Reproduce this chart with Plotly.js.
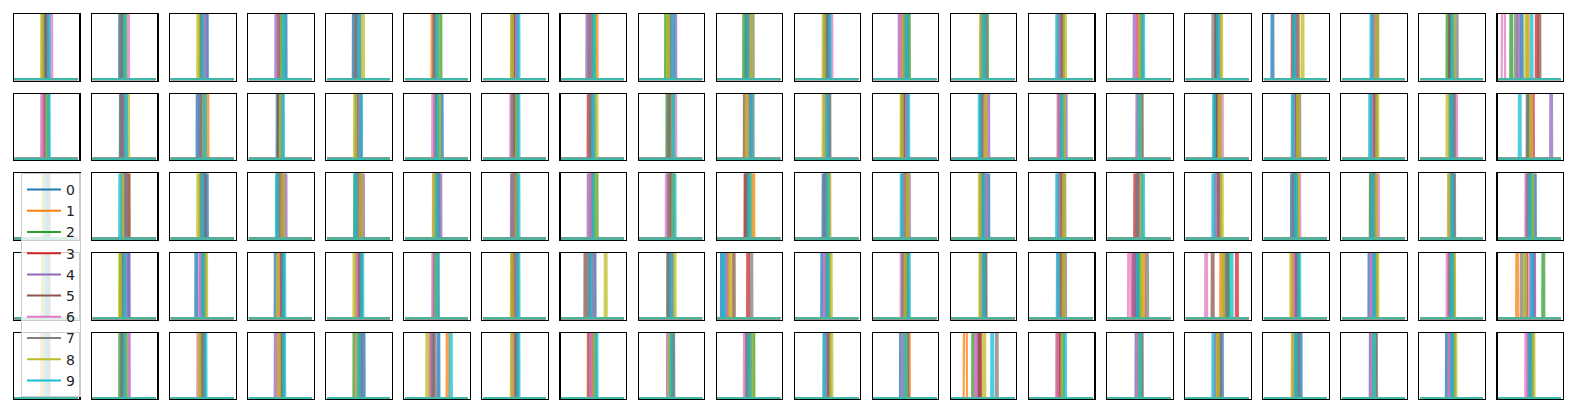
<!DOCTYPE html>
<html>
<head>
<meta charset="utf-8">
<script src="https://cdn.plot.ly/plotly-3.0.1.min.js"></script>
<style>html,body{margin:0;padding:0;background:#fff;}#chart{width:1576px;height:412px;}</style>
</head>
<body>
<div id="chart"></div>
<script>
// Class labels and colours (legend)
const classes = ['0','1','2','3','4','5','6','7','8','9'];
const colors = ['#1f77b4','#ff7f0e','#2ca02c','#d62728','#9467bd','#8c564b','#e377c2','#7f7f7f','#bcbd22','#17becf'];

// Peak centre of each class (index 0..9) in every panel, as % of the panel's x span
const row0Peaks = [
 [49,48,46,50,51,47,57,45,43,53],
 [43,48,46,49,50,47,55,44,51,50],
 [56,49,47,50,54,48,52,46,43,50],
 [57,50,51,49,43,48,45,47,52,54],
 [42,47,50,48,49,46,51,45,56,50],
 [50,43,55,48,49,46,51,47,52,50],
 [50,49,48,51,52,47,53,46,45,55],
 [50,55,49,48,41,47,45,44,52,51],
 [53,50,42,49,56,48,51,47,45,52],
 [50,49,42,48,51,46,52,55,53,47],
 [50,49,48,51,47,52,56,46,44,53],
 [50,48,55,49,41,46,43,52,47,51],
 [48,50,55,49,47,49,51,53,46,50],
 [47,49,46,48,50,51,45,52,55,43],
 [52,48,49,47,42,51,46,53,50,55],
 [50,51,49,48,52,47,53,43,55,50],
 [14,53,49,45,50,48,51,52,60,47],
 [52,50,51,49,48,53,50,55,54,46],
 [49,50,43,48,51,47,52,57,53,50],
 [37,46,21,60,32,64,9,28,44,52]
];
const row1Peaks = [
 [52,48,49,50,45,47,43,49,51,53],
 [44,50,49,48,47,46,51,45,55,52],
 [42,57,48,49,46,50,51,47,52,53],
 [45,50,49,48,51,47,52,49,50,53],
 [50,49,48,51,47,52,50,46,44,53],
 [57,49,48,50,51,47,44,52,53,50],
 [50,49,48,51,52,47,44,46,53,55],
 [50,49,48,43,51,47,52,46,55,50],
 [50,48,44,49,51,47,56,46,52,53],
 [50,49,48,51,52,43,47,55,46,53],
 [50,49,47,51,48,52,46,53,44,50],
 [50,49,48,51,47,46,52,45,44,54],
 [50,49,48,51,57,47,52,46,53,44],
 [47,49,46,48,56,51,45,52,53,50],
 [49,50,48,51,47,52,46,53,50,49],
 [50,49,48,47,51,46,56,52,53,44],
 [50,49,48,51,47,52,46,55,53,45],
 [50,49,48,51,47,52,46,53,55,44],
 [50,49,48,51,47,52,56,53,43,49],
 [47,50,48,54,82,49,52,46,51,34]
];
const row2Peaks = [
 [50,49,48,51,47,52,46,53,45,50],
 [50,55,49,48,51,56,47,52,46,43],
 [56,49,48,51,53,52,47,46,43,50],
 [50,49,45,48,57,52,47,46,53,44],
 [50,49,44,48,56,52,47,46,53,45],
 [50,49,48,51,55,46,47,52,45,50],
 [50,49,48,51,45,52,47,46,53,55],
 [50,49,55,48,43,47,46,52,53,50],
 [50,49,48,51,47,52,43,46,53,55],
 [50,56,49,44,47,45,52,48,53,50],
 [44,49,48,50,47,51,52,46,53,50],
 [50,49,46,48,55,51,47,52,53,44],
 [57,49,48,51,47,52,53,46,44,50],
 [47,49,46,48,50,51,45,54,53,43],
 [50,49,48,43,51,47,52,46,53,55],
 [50,49,48,51,47,52,46,53,56,43],
 [44,49,48,51,47,52,55,46,53,50],
 [50,49,45,51,47,52,56,46,53,48],
 [50,49,48,51,47,52,46,53,45,50],
 [57,49,48,51,47,52,44,46,53,50]
];
const row3Peaks = [
 [50,44,48,51,47,52,46,53,45,50],
 [55,49,44,48,56,47,51,46,43,50],
 [40,49,48,51,47,52,46,53,55,50],
 [42,49,48,51,47,52,46,53,45,55],
 [50,49,48,51,47,52,46,53,43,55],
 [51,48,47,49,46,48,44,47,49,50],
 [50,49,48,51,47,46,52,53,45,55],
 [52,47,46,49,45,38,49,42,69,47],
 [50,49,48,51,47,46,52,45,55,50],
 [8,18,15,48,14,26,15,53,21,11],
 [42,49,48,51,47,52,46,50,55,50],
 [52,49,48,51,47,53,44,46,50,55],
 [50,49,48,51,47,52,46,53,45,50],
 [47,49,46,48,55,51,45,52,53,44],
 [48,56,50,40,42,46,34,61,52,47],
 [64,55,66,79,62,42,32,60,58,71],
 [50,45,48,51,47,52,46,53,43,55],
 [43,49,48,51,47,52,46,53,55,50],
 [50,49,48,51,47,52,43,46,53,50],
 [52,30,70,55,56,44,50,37,42,53]
];
const row4Peaks = [
 [50,43,48,51,47,52,46,53,45,50],
 [50,49,43,48,56,47,54,46,52,50],
 [50,49,48,51,47,46,43,52,45,54],
 [50,49,48,51,42,52,46,53,47,55],
 [57,49,43,51,53,48,46,52,47,50],
 [52,66,41,44,43,42,40,45,35,71],
 [50,49,48,51,47,52,46,53,45,55],
 [50,43,48,51,47,44,46,53,52,55],
 [50,49,48,51,45,52,46,53,47,50],
 [50,49,56,51,47,48,43,46,53,50],
 [50,49,48,51,47,52,46,53,56,45],
 [43,55,48,51,47,52,46,53,50,49],
 [42,22,34,45,40,43,38,70,51,63],
 [47,49,46,44,50,48,43,52,51,55],
 [45,49,48,51,47,52,46,53,50,50],
 [56,49,48,51,47,52,46,53,50,43],
 [57,49,48,51,47,52,46,53,45,50],
 [45,49,48,51,47,52,46,53,50,50],
 [42,49,48,51,47,52,46,53,55,50],
 [50,49,48,51,47,52,44,53,55,50]
];
// Peaks that are visibly wider: [row, column, class, half-width in %]
const widePeaks = [[0,19,6,2.6],[4,12,1,2.6],[4,5,7,2.5],[3,14,6,2.0]];

const allRows = [row0Peaks,row1Peaks,row2Peaks,row3Peaks,row4Peaks];
const nRows = 5, nCols = 20;
const W = 1576, H = 412;
const colLeft = 14, colPitch = 78.08, panelW = 65.4;
const rowTop = 14, rowPitch = 79.7, panelH = 66.5;
const baseHalf = 1.5, peakHeight = 6, xLo = 1, xHi = 97;

const data = [];
const layout = {
  width: W, height: H,
  margin: {l:0, r:0, t:0, b:0, pad:0, autoexpand:false},
  paper_bgcolor: '#ffffff', plot_bgcolor: '#ffffff',
  showlegend: true,
  legend: {
    x: 21/W, y: 1 - 173/H, xanchor: 'left', yanchor: 'top',
    bgcolor: 'rgba(255,255,255,0.8)', bordercolor: '#cccccc', borderwidth: 1,
    font: {family: 'DejaVu Sans', size: 14, color: '#222222'},
    itemwidth: 34, tracegroupgap: 0, traceorder: 'normal'
  },
  font: {family: 'DejaVu Sans'}
};

function halfWidth(r, c, k) {
  for (const w of widePeaks) if (w[0]===r && w[1]===c && w[2]===k) return w[3];
  return baseHalf;
}

for (let r = 0; r < nRows; r++) {
  for (let c = 0; c < nCols; c++) {
    const idx = r*nCols + c + 1;
    const sfx = idx === 1 ? '' : String(idx);
    const x0 = (colLeft + c*colPitch)/W, x1 = (colLeft + c*colPitch + panelW)/W;
    const yt = rowTop + r*rowPitch;
    const y1 = 1 - yt/H, y0 = 1 - (yt + panelH)/H;
    layout['xaxis'+sfx] = {domain:[x0,x1], range:[0,100], anchor:'y'+sfx,
      showticklabels:false, ticks:'', showgrid:false, zeroline:false,
      showline:true, mirror:true, linecolor:'#000000', linewidth:1.1, fixedrange:true};
    layout['yaxis'+sfx] = {domain:[y0,y1], range:[-0.02,1], anchor:'x'+sfx,
      showticklabels:false, ticks:'', showgrid:false, zeroline:false,
      showline:true, mirror:true, linecolor:'#000000', linewidth:1.1, fixedrange:true};
    const centres = allRows[r][c];
    for (let k = 0; k < classes.length; k++) {
      const cx = centres[k], hw = halfWidth(r,c,k);
      data.push({
        type:'scatter', mode:'lines', xaxis:'x'+sfx, yaxis:'y'+sfx,
        x:[xLo, cx-hw, cx, cx+hw, xHi], y:[0,0,peakHeight,0,0],
        line:{color:colors[k], width:2.2}, opacity:0.75,
        showlegend:false, hoverinfo:'skip', name:classes[k]
      });
    }
  }
}
// legend entries
for (let k = 0; k < classes.length; k++) {
  data.push({type:'scatter', mode:'lines', x:[null], y:[null], xaxis:'x', yaxis:'y',
    name:classes[k], line:{color:colors[k], width:2}, showlegend:true, hoverinfo:'skip'});
}

Plotly.newPlot('chart', data, layout, {staticPlot:true, displayModeBar:false});
</script>
</body>
</html>
